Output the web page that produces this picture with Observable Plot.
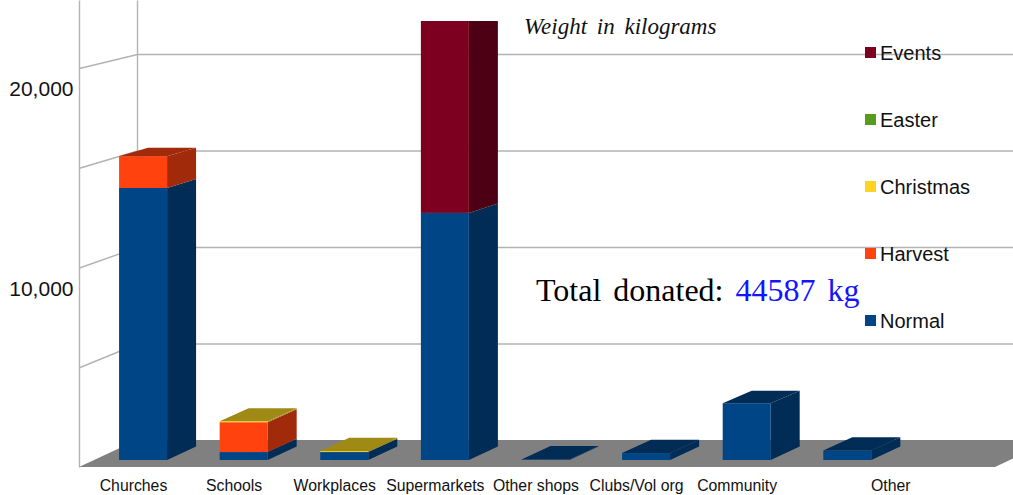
<!DOCTYPE html>
<html>
<head>
<meta charset="utf-8">
<script src="https://cdn.jsdelivr.net/npm/d3@7"></script>
<script src="https://cdn.jsdelivr.net/npm/@observablehq/plot@0.6"></script>
<style>
  html, body { margin: 0; padding: 0; background: #fff; }
  #wrap { position: relative; width: 1013px; height: 495px; overflow: hidden; font-family: "Liberation Sans", Arial, sans-serif; }
  #wrap svg { position: absolute; left: 0; top: 0; }
  .ov { position: absolute; white-space: nowrap; }
  .sub { font-family: "Liberation Serif", "Times New Roman", serif; font-style: italic; font-size: 23px; line-height: 23px; color: #111; word-spacing: 4px; }
  .tot { font-family: "Liberation Serif", "Times New Roman", serif; font-size: 32px; line-height: 32px; color: #000; word-spacing: 4px; }
  .tot span { color: #1414ff; }
  .lg-sq { position: absolute; width: 11px; height: 11px; }
  .lg-tx { position: absolute; font-size: 20px; line-height: 20px; color: #111; }
</style>
</head>
<body>
<div id="wrap"></div>
<script>
// ---- data (kg) ----
const categories = ["Churches", "Schools", "Workplaces", "Supermarkets", "Other shops", "Clubs/Vol org", "Community", "Other"];
const normal    = [13750, 400, 400, 12490, 20, 350, 2870, 480];
const harvest   = [1610, 1510, 0, 0, 0, 0, 0, 0];
const christmas = [0, 50, 50, 0, 0, 0, 0, 0];
const easter    = [0, 0, 0, 0, 0, 0, 0, 0];
const events    = [0, 0, 0, 10607, 0, 0, 0, 0];
const seriesNames = ["Normal", "Harvest", "Christmas", "Easter", "Events"];
const yTicks = [10000, 20000];
const gridValues = [5000, 10000, 15000, 20000];
const totalText = "44587 kg";

// ---- styles ----
const frontColors = {Normal: "#004586", Harvest: "#ff420e", Christmas: "#ffd320", Easter: "#579d1c", Events: "#7e0021"};
const darkColors  = {Normal: "#002c55", Harvest: "#a02a09", Christmas: "#9f8a16", Easter: "#365f11", Events: "#4d0014"};

// ---- pseudo-3D geometry (in scale units) ----
const XL = -0.487, XR = 8.618;     // wall / floor extent along x (category index units)
const DX = 0.5765;                  // depth shift along x
const B = 1353, K = 0.0326;         // depth shift / shrink along y (kg units)
const D0 = 0.26, D1 = 0.76, HW = 0.2386;
const YTOP = 22356, YMAXWALL = 23409;
const py = (v, d) => v * (1 - d * K) + d * B;

const seriesValues = [normal, harvest, christmas, easter, events];
const fronts = [], sides = [], tops = [];
categories.forEach((c, i) => {
  let base = 0, topV = 0, topName = null;
  seriesValues.forEach((vals, s) => {
    const v = vals[i];
    if (!v) return;
    const name = seriesNames[s];
    const v0 = base, v1 = base + v;
    fronts.push({x1: i - HW + D0 * DX, x2: i + HW + D0 * DX, y1: py(v0, D0), y2: py(v1, D0), fill: frontColors[name]});
    const id = c + "-" + name;
    sides.push({id, x: i + HW + D0 * DX, y1: py(v0, D0), y2: py(v1, D0), fill: darkColors[name]});
    sides.push({id, x: i + HW + D1 * DX, y1: py(v0, D1), y2: py(v1, D1), fill: darkColors[name]});
    base = v1; topV = v1; topName = name;
  });
  if (topName) {
    tops.push({id: c, y: py(topV, D0), x1: i - HW + D0 * DX, x2: i + HW + D0 * DX, fill: darkColors[topName]});
    tops.push({id: c, y: py(topV, D1), x1: i - HW + D1 * DX, x2: i + HW + D1 * DX, fill: darkColors[topName]});
  }
});

const floor = [
  {y: 0, x1: XL, x2: XR},
  {y: py(0, 1), x1: XL + DX, x2: XR + DX}
];
const sideGrid = gridValues.map(v => ({x1: XL, y1: v, x2: XL + DX, y2: py(v, 1)}));
const backGrid = gridValues.map(v => ({x1: XL + DX, y1: py(v, 1), x2: XR + DX + 1, y2: py(v, 1)}));
const verticals = [
  {x1: XL, y1: 0, x2: XL, y2: YMAXWALL},
  {x1: XL + DX, y1: py(0, 1), x2: XL + DX, y2: YMAXWALL}
];

const gridColor = "#b3b3b3";
const chart = Plot.plot({
  width: 1013, height: 495,
  marginLeft: 79, marginRight: 18, marginTop: 21, marginBottom: 28,
  x: {type: "linear", domain: [XL, XR]},
  y: {domain: [0, YTOP]},
  color: {type: "identity"},
  style: {fontFamily: "'Liberation Sans', Arial, sans-serif", color: "#111", background: "transparent", overflow: "visible"},
  marks: [
    Plot.link(verticals, {x1: "x1", y1: "y1", x2: "x2", y2: "y2", stroke: gridColor, strokeWidth: 1.4}),
    Plot.link(sideGrid, {x1: "x1", y1: "y1", x2: "x2", y2: "y2", stroke: gridColor, strokeWidth: 1.4}),
    Plot.link(backGrid, {x1: "x1", y1: "y1", x2: "x2", y2: "y2", stroke: gridColor, strokeWidth: 1.4}),
    Plot.areaX(floor, {y: "y", x1: "x1", x2: "x2", fill: "#808080"}),
    Plot.areaY(sides, {x: "x", y1: "y1", y2: "y2", z: "id", fill: "fill", clip: true}),
    Plot.rect(fronts, {x1: "x1", x2: "x2", y1: "y1", y2: "y2", fill: "fill", clip: true}),
    Plot.areaX(tops, {y: "y", x1: "x1", x2: "x2", z: "id", fill: "fill", clip: true}),
    Plot.axisY({ticks: yTicks, tickSize: 0, tickPadding: 6, fontSize: 21, dy: 21, tickFormat: d3.format(","), label: null}),
    Plot.axisX({ticks: d3.range(0, 7), tickFormat: i => categories[i], tickSize: 0, tickPadding: 12, fontSize: 15.8, dx: 5, label: null}),
    Plot.axisX({ticks: [7], tickFormat: i => categories[i], tickSize: 0, tickPadding: 12, fontSize: 15.8, dx: 58, label: null})
  ]
});

const wrap = document.getElementById("wrap");
wrap.appendChild(chart);

// subtitle
const sub = document.createElement("div");
sub.className = "ov sub";
sub.style.left = "524px"; sub.style.top = "15px";
sub.textContent = "Weight in kilograms";
wrap.appendChild(sub);

// total annotation
const tot = document.createElement("div");
tot.className = "ov tot";
tot.style.left = "536px"; tot.style.top = "274px";
tot.innerHTML = "Total donated: <span></span>";
tot.querySelector("span").textContent = totalText;
wrap.appendChild(tot);

// legend (Events on top ... Normal at bottom)
const legendOrder = seriesNames.slice().reverse();
legendOrder.forEach((name, k) => {
  const cy = 52.5 + k * 67;
  const sq = document.createElement("div");
  sq.className = "lg-sq";
  sq.style.left = "865px"; sq.style.top = (cy - 5.5) + "px";
  sq.style.background = frontColors[name];
  wrap.appendChild(sq);
  const tx = document.createElement("div");
  tx.className = "ov lg-tx";
  tx.style.left = "880px"; tx.style.top = (cy - 10) + "px";
  tx.textContent = name;
  wrap.appendChild(tx);
});
</script>
</body>
</html>
